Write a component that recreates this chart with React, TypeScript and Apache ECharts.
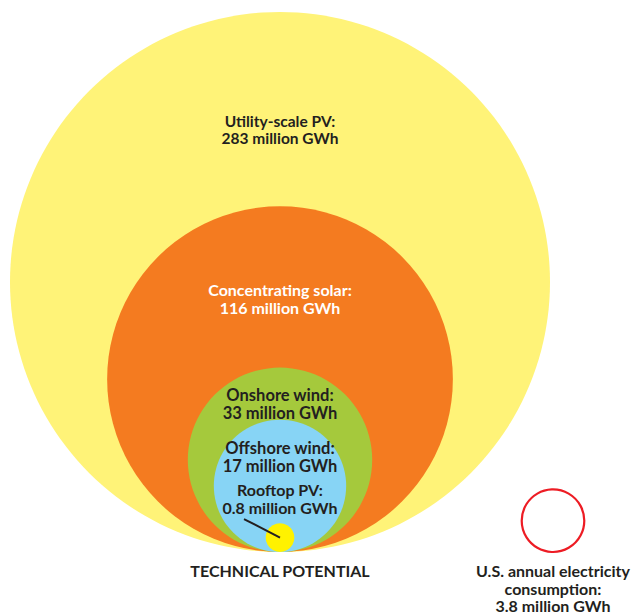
import React, { useEffect, useRef } from "react";
import * as echarts from "echarts";

const categories = [
  "TECHNICAL POTENTIAL",
  "U.S. annual electricity\nconsumption:\n3.8 million GWh",
];
const sourceNames = [
  "Utility-scale PV",
  "Concentrating solar",
  "Onshore wind",
  "Offshore wind",
  "Rooftop PV",
  "U.S. annual electricity consumption",
];
const sourceValues = [283, 116, 33, 17, 0.8, 3.8];
const sourceGroup = [0, 0, 0, 0, 0, 1];
const unit = "million GWh";

// styling (not data)
const fills = ["#fff378", "#f47b20", "#a5c93c", "#87d4f5", "#fff200", "#ffffff"];
const strokes = [null, null, null, null, null, "#ed1c24"];
const labelColors = ["#231f20", "#ffffff", "#231f20", "#231f20", "#231f20", null];
const labelOffsets = [117, 92.5, 36, 37, -25, null];
const labelSizes = [15.5, 16, 16.5, 16.5, 16, 0];
const labelLineHeights = [17, 18, 18, 18, 18, 0];
const PX_PER_SQRT = 270 / Math.sqrt(283);
const FONT = "Lato, 'Noto Sans', sans-serif";

export default function App() {
  const ref = useRef<HTMLDivElement>(null);
  useEffect(() => {
    document.body.style.margin = "0";
    const chart = echarts.init(ref.current!, null, { renderer: "svg" });
    const data = sourceValues.map((v, i) => [sourceGroup[i], v]);
    chart.setOption({
      animation: false,
      grid: {
        left: 143.5,
        width: 546,
        top: 0,
        bottom: 63,
        containLabel: false,
        outerBoundsMode: "none",
      },
      xAxis: {
        type: "category",
        data: categories,
        axisLine: { show: false },
        axisTick: { show: false },
        splitLine: { show: false },
        axisLabel: {
          interval: 0,
          margin: 10,
          color: "#231f20",
          fontFamily: FONT,
          fontWeight: "bold",
          fontSize: 16,
          lineHeight: 17.5,
        },
      },
      yAxis: { type: "value", min: 0, max: 1, show: false },
      series: [
        {
          type: "custom",
          clip: false,
          data,
          renderItem: (params: any, api: any) => {
            const i = params.dataIndex;
            const base = api.coord([api.value(0), 0]);
            const r = PX_PER_SQRT * Math.sqrt(api.value(1));
            const cx = base[0];
            const cy = base[1] - r;
            const children: any[] = [
              {
                type: "circle",
                shape: { cx, cy, r },
                style: {
                  fill: fills[i],
                  stroke: strokes[i] || undefined,
                  lineWidth: strokes[i] ? 2.2 : 0,
                },
              },
            ];
            if (labelOffsets[i] !== null) {
              children.push({
                type: "text",
                x: cx,
                y: cy - r + (labelOffsets[i] as number),
                style: {
                  text: `${sourceNames[i]}:\n${sourceValues[i]} ${unit}`,
                  fill: labelColors[i],
                  fontFamily: FONT,
                  fontWeight: "bold",
                  fontSize: labelSizes[i],
                  lineHeight: labelLineHeights[i],
                  align: "center",
                  verticalAlign: "middle",
                },
              });
            }
            if (i === 4) {
              children.push({
                type: "line",
                shape: { x1: cx - 36, y1: cy - 18.6, x2: cx, y2: cy },
                style: { stroke: "#231f20", lineWidth: 2 },
              });
            }
            return { type: "group", children };
          },
        },
      ],
    });
    return () => chart.dispose();
  }, []);
  return <div ref={ref} style={{ width: 639, height: 615 }} />;
}
